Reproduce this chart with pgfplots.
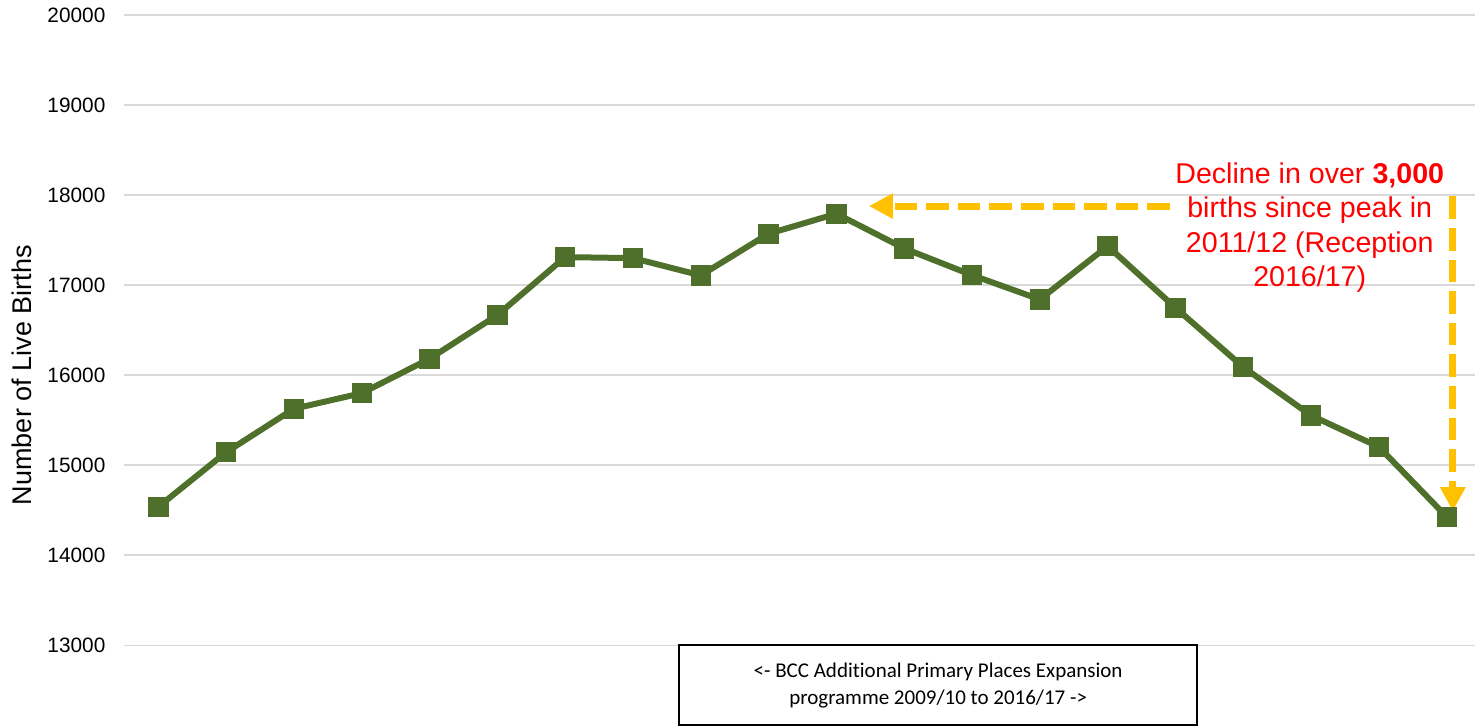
\documentclass[border=0pt]{standalone}
\usepackage{fontspec}
\setmainfont{Liberation Sans}
\newfontfamily\calibri[Ligatures=NoCommon]{Carlito}
\usepackage{pgfplots}
\usepackage{pgfplotstable}
\pgfplotsset{compat=1.18}
\usetikzlibrary{arrows.meta}
\definecolor{linegreen}{RGB}{79,112,42}
\definecolor{gridgray}{RGB}{217,217,217}
\definecolor{arrowgold}{RGB}{255,192,0}

\pgfplotstableread{
x y
0 14538
1 15144
2 15627
3 15800
4 16182
5 16667
6 17311
7 17300
8 17108
9 17571
10 17793
11 17408
12 17111
13 16841
14 17433
15 16749
16 16089
17 15552
18 15203
19 14427
}\births

\begin{document}
\begin{tikzpicture}
\begin{axis}[
  at={(0,0)}, anchor=south west,
  scale only axis, width=678.1pt, height=315.15pt,
  xmin=-0.5, xmax=19.5, ymin=13000, ymax=20000,
  axis line style={draw=none},
  xtick=\empty,
  ytick={13000,14000,...,20000},
  scaled y ticks=false,
  ymajorgrids, grid style={gridgray, line width=0.8pt},
  major tick length=0pt,
  yticklabel style={font=\fontsize{10.4}{12}\selectfont, xshift=-6pt},
  /pgf/number format/assume math mode=true,
  /pgf/number format/1000 sep={},
  ylabel={Number of Live Births},
  ylabel style={at={(axis description cs:-0.0755,0.4285)}, anchor=center, font=\fontsize{13.5}{16}\selectfont},
  clip=false,
]
\addplot[linegreen, line width=3pt, mark=square*, mark size=3.6pt, mark options={solid}] table[x=x,y=y] {\births};

\draw[arrowgold, line width=3.5pt, dash pattern=on 11.3pt off 4.5pt, -{Triangle[length=12pt, width=12pt]}]
  (axis cs:14.92,17878) -- (axis cs:10.48,17878);
\draw[arrowgold, line width=3.5pt, dash pattern=on 11.3pt off 4.5pt, -{Triangle[length=12pt, width=12pt]}]
  (axis cs:19.09,17986) -- (axis cs:19.09,14490);

\node[text=red, align=center, font=\fontsize{14.3}{17.25}\selectfont] at (axis cs:16.98,17637)
  {Decline in over \textbf{3,000}\\births since peak in\\2011/12 (Reception\\2016/17)};

\node[draw=black, line width=1pt, fill=white, minimum width=259pt, minimum height=40pt, align=center,
  font=\calibri\fontsize{10.5}{13.5}\selectfont] at (axis cs:11.5,12558)
  {<- BCC Additional Primary Places Expansion\\programme 2009/10 to 2016/17 ->};
\end{axis}
\pgfresetboundingbox
\useasboundingbox (-62.2pt,-40.85pt) rectangle (675.3pt,322.65pt);
\end{tikzpicture}
\end{document}
